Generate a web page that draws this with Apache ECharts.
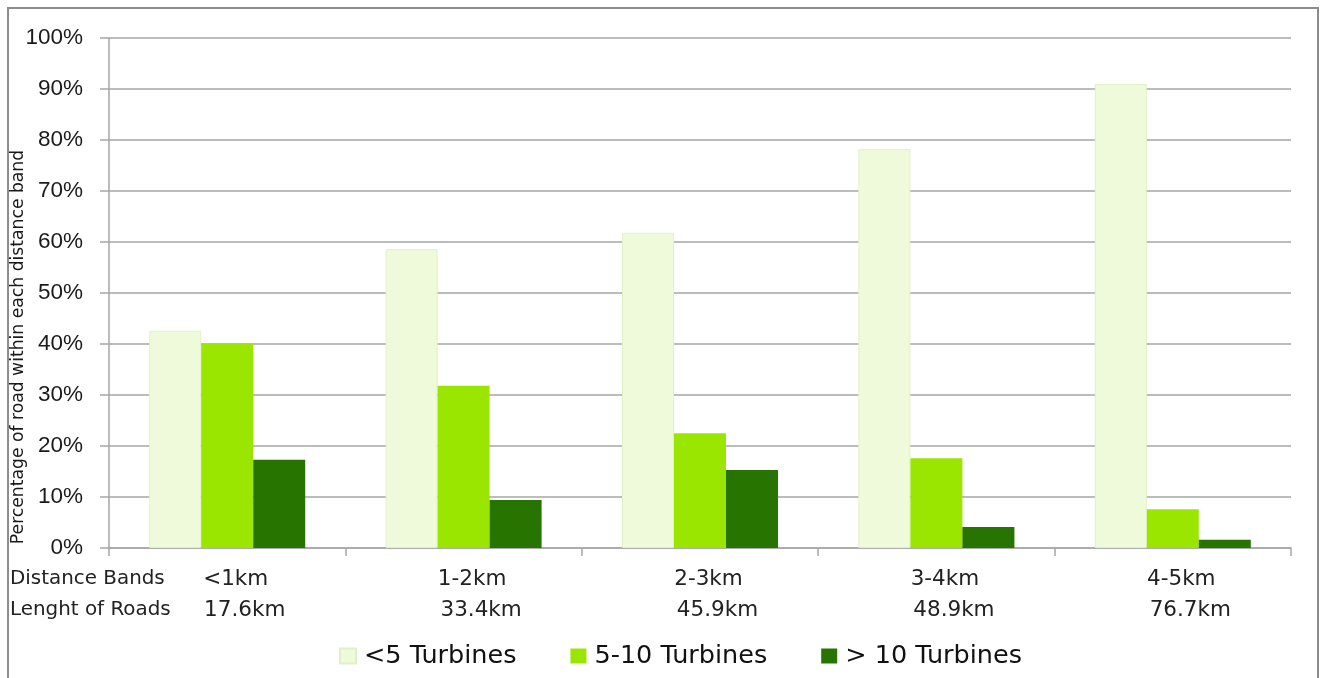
<!DOCTYPE html>
<html>
<head>
<meta charset="utf-8">
<title>Road length by distance band and turbine count</title>
<script src="https://cdn.jsdelivr.net/npm/echarts@6/dist/echarts.min.js"></script>
<style>
  html, body { margin: 0; padding: 0; background: #ffffff; }
  #chart { width: 1321px; height: 678px; }
</style>
</head>
<body>
<div id="chart"></div>
<script>
// Distance bands from the road and the road length inside each band
const distanceBands = ['<1km', '1-2km', '2-3km', '3-4km', '4-5km'];
const roadLengths = ['17.6km', '33.4km', '45.9km', '48.9km', '76.7km'];

// Share of road (%) within each band, by number of visible turbines
const seriesNames = ['<5 Turbines', '5-10 Turbines', '> 10 Turbines'];
const underFive = [42.6, 58.6, 61.8, 78.2, 91.0];
const fiveToTen = [40.1, 31.8, 22.5, 17.6, 7.6];
const overTen = [17.3, 9.4, 15.3, 4.1, 1.6];

const yTicks = { min: 0, max: 100, interval: 10 };

const colors = ['#EFFADB', '#9BE600', '#277500'];
const gridGray = '#A6A6A6';
const textFont = '"DejaVu Sans", Verdana, sans-serif';

const chart = echarts.init(document.getElementById('chart'), null, { renderer: 'canvas' });

const seriesData = [underFive, fiveToTen, overTen];

chart.setOption({
  animation: false,
  backgroundColor: '#ffffff',
  color: colors,
  grid: { left: 109, right: 30, top: 38, bottom: 130, containLabel: false },
  legend: {
    data: seriesNames,
    left: 339,
    top: 643,
    padding: 0,
    itemWidth: 16,
    itemHeight: 15,
    itemGap: 54,
    icon: 'rect',
    textStyle: { fontFamily: textFont, fontSize: 25.5, color: '#111111', padding: [0, 0, 0, 3] }
  },
  xAxis: {
    type: 'category',
    data: distanceBands,
    axisLine: { lineStyle: { color: gridGray, width: 1.5 } },
    axisTick: { show: true, alignWithLabel: false, length: 8, lineStyle: { color: gridGray, width: 1.5 } },
    axisLabel: {
      margin: 16,
      interval: 0,
      fontFamily: textFont,
      color: '#222222',
      formatter: (value, idx) => '{a|' + value + '}\n{b|' + roadLengths[idx] + '}',
      rich: {
        a: { fontFamily: textFont, fontSize: 21.5, color: '#222222', lineHeight: 31, padding: [0, 0, 0, 17] },
        b: { fontFamily: textFont, fontSize: 21.5, color: '#222222', lineHeight: 31, padding: [0, 0, 0, 35] }
      }
    }
  },
  yAxis: {
    type: 'value',
    min: yTicks.min,
    max: yTicks.max,
    interval: yTicks.interval,
    axisLine: { show: true, lineStyle: { color: gridGray, width: 1.5 } },
    axisTick: { show: true, length: 9, lineStyle: { color: gridGray, width: 1.5 } },
    splitLine: { show: true, lineStyle: { color: gridGray, width: 1.5 } },
    axisLabel: {
      margin: 26,
      formatter: '{value}%',
      fontFamily: '"Liberation Sans", Arial, sans-serif',
      fontSize: 22.5,
      color: '#1a1a1a'
    }
  },
  series: seriesNames.map((name, i) => ({
    name: name,
    type: 'bar',
    data: seriesData[i],
    barGap: '0%',
    barCategoryGap: '34%',
    itemStyle: i === 0
      ? { color: colors[i], borderColor: '#E2EFCB', borderWidth: 1 }
      : { color: colors[i] }
  })),
  graphic: [
    {
      type: 'rect',
      silent: true,
      shape: { x: 8, y: 8, width: 1310, height: 720 },
      style: { fill: 'none', stroke: '#8C8C8C', lineWidth: 2 }
    },
    {
      type: 'text',
      silent: true,
      x: 19,
      y: 347,
      rotation: Math.PI / 2,
      style: {
        text: 'Percentage of road within each distance band',
        fontFamily: textFont,
        fontSize: 17.2,
        fill: '#1a1a1a',
        align: 'center',
        verticalAlign: 'middle'
      }
    },
    {
      type: 'text',
      silent: true,
      left: 10,
      top: 569,
      style: { text: 'Distance Bands', fontFamily: textFont, fontSize: 19.9, fill: '#222222' }
    },
    {
      type: 'text',
      silent: true,
      left: 10,
      top: 600,
      style: { text: 'Lenght of Roads', fontFamily: textFont, fontSize: 19.9, fill: '#222222' }
    }
  ]
});
</script>
</body>
</html>
